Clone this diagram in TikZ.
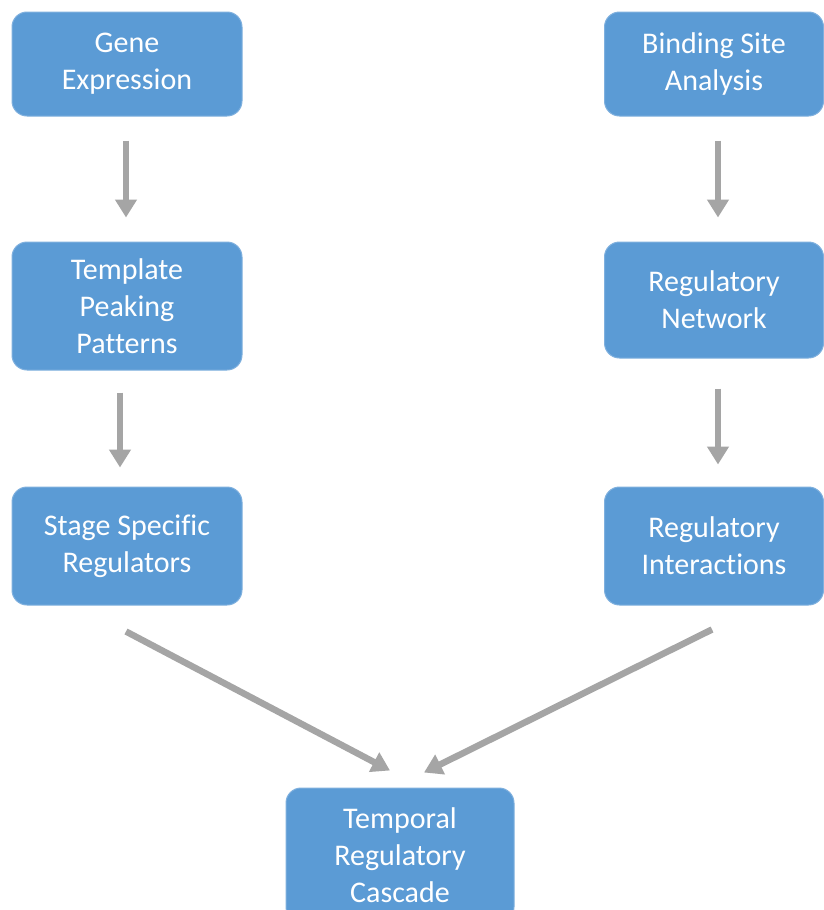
\documentclass[tikz,border=0pt]{standalone}
\usepackage{fontspec}
\setmainfont[Ligatures=NoCommon]{Carlito}
\usetikzlibrary{arrows.meta}
\definecolor{boxblue}{HTML}{5B9BD5}
\definecolor{boxedge}{HTML}{7FB0DE}
\definecolor{arrowgray}{HTML}{A5A5A5}
\begin{document}
\begin{tikzpicture}[x=1pt,y=-1pt,
  stagebox/.style={draw=boxedge, line width=1pt, fill=boxblue, rounded corners=15pt,
    text=white, align=center, inner sep=0pt,
    font=\fontsize{30}{37}\selectfont},
  flow/.style={draw=arrowgray, line width=6.5pt,
    -{Triangle[width=21pt,length=18pt]}}]
  \useasboundingbox[fill=white] (0,0) rectangle (823,910);

  % left column
  \node[stagebox, minimum width=230pt, minimum height=104pt] (ge) at (127,64) {Gene\\Expression};
  \node[stagebox, minimum width=230pt, minimum height=128pt] (tpp) at (127,306) {Template\\Peaking\\Patterns};
  \node[stagebox, minimum width=230pt, minimum height=118pt] (ssr) at (127,546) {Stage Specific\\Regulators};

  % right column
  \node[stagebox, minimum width=219pt, minimum height=104pt] (bsa) at (714,64) {Binding Site\\Analysis};
  \node[stagebox, minimum width=219pt, minimum height=116pt] (rn) at (714,300) {Regulatory\\Network};
  \node[stagebox, minimum width=219pt, minimum height=118pt] (ri) at (714,546) {Regulatory\\Interactions};

  % result
  \node[stagebox, minimum width=228pt, minimum height=134pt] (trc) at (400,855) {Temporal\\Regulatory\\Cascade};

  % connectors (shifts are in page units: negative y goes down)
  \draw[flow] ([xshift=-1pt,yshift=-24pt]ge.south) -- ([xshift=-1pt,yshift=24pt]tpp.north);
  \draw[flow] ([xshift=-7pt,yshift=-22pt]tpp.south) -- ([xshift=-7pt,yshift=19pt]ssr.north);
  \draw[flow] ([xshift=4pt,yshift=-24pt]bsa.south) -- ([xshift=4pt,yshift=24pt]rn.north);
  \draw[flow] ([xshift=4pt,yshift=-30pt]rn.south) -- ([xshift=4pt,yshift=22pt]ri.north);
  \draw[flow] ([xshift=-1pt,yshift=-26pt]ssr.south) -- ([xshift=-10pt,yshift=17pt]trc.north);
  \draw[flow] ([xshift=-2pt,yshift=-24pt]ri.south) -- ([xshift=24pt,yshift=15pt]trc.north);
\end{tikzpicture}
\end{document}
